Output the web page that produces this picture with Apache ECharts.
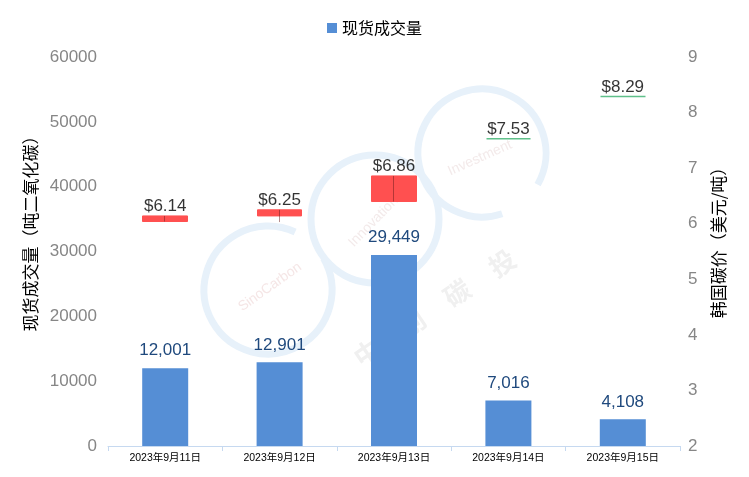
<!DOCTYPE html>
<html><head><meta charset="utf-8">
<script src="https://cdn.jsdelivr.net/npm/echarts@6/dist/echarts.min.js"></script>
<style>html,body{margin:0;padding:0;background:#fff}#c{width:749px;height:477px}</style>
</head><body><div id="c"></div>
<script>
const categories = ['2023年9月11日', '2023年9月12日', '2023年9月13日', '2023年9月14日', '2023年9月15日'];
const volume = [12001, 12901, 29449, 7016, 4108];
const priceOpen = [6.04, 6.14, 6.40, 7.53, 8.29];
const priceClose = [6.14, 6.25, 6.86, 7.53, 8.29];
const priceLow = [6.04, 6.03, 6.40, 7.53, 8.29];
const priceHigh = [6.14, 6.25, 6.86, 7.53, 8.29];
const priceColor = ['#ff5050', '#ff5050', '#ff5050', '#5fc08a', '#5fc08a'];
const wickShown = [true, true, true, false, false];
const leftTicks = { min: 0, max: 60000, interval: 10000 };
const rightTicks = { min: 2, max: 9, interval: 1 };

const FONT = 'Liberation Sans, Noto Sans CJK SC, sans-serif';
const CJK = 'Noto Sans CJK SC, sans-serif';

const boxData = priceOpen.map((o, i) => ({
  value: [o, priceClose[i], Math.min(o, priceClose[i]), Math.max(o, priceClose[i])],
  itemStyle: { color: priceColor[i], color0: priceColor[i], borderColor: priceColor[i], borderColor0: priceColor[i], borderWidth: priceOpen[i] === priceClose[i] ? 1.5 : 1 }
}));
const wickData = priceLow.map((l, i) => wickShown[i] ? [l, priceHigh[i], l, priceHigh[i]] : '-');

const wmColor = '#e7f1fa';
const wmChars = ['中', '创', '碳', '投'];
const wmText = wmChars.map((ch, i) => ({
  type: 'text', z: -10, x: 367 + i * 45, y: 353 - i * 30, rotation: 0.59,
  style: { text: ch, fill: '#f0f0f0', font: 'bold 26px ' + CJK, align: 'center', verticalAlign: 'middle' }
}));

const chart = echarts.init(document.getElementById('c'), null, { renderer: 'canvas' });
chart.setOption({
  animation: false,
  backgroundColor: '#fff',
  textStyle: { fontFamily: FONT },
  graphic: {
    elements: [
      { type: 'arc', z: -10, shape: { cx: 268, cy: 290, r: 64, startAngle: -0.52, endAngle: 5.15, clockwise: true }, style: { fill: null, stroke: wmColor, lineWidth: 7 } },
      { type: 'arc', z: -10, shape: { cx: 375, cy: 219, r: 64, startAngle: 0, endAngle: Math.PI * 2, clockwise: true }, style: { fill: null, stroke: wmColor, lineWidth: 7 } },
      { type: 'arc', z: -10, shape: { cx: 482, cy: 153, r: 64, startAngle: 1.25, endAngle: 6.8, clockwise: true }, style: { fill: null, stroke: wmColor, lineWidth: 7 } },
      { type: 'text', z: -10, x: 270, y: 287, rotation: 0.62, style: { text: 'SinoCarbon', fill: '#f5e6e6', font: '14px ' + FONT, align: 'center', verticalAlign: 'middle' } },
      { type: 'text', z: -10, x: 378, y: 217, rotation: 0.8, style: { text: 'Innovation &', fill: '#f3eaea', font: '14px ' + FONT, align: 'center', verticalAlign: 'middle' } },
      { type: 'text', z: -10, x: 480, y: 158, rotation: 0.42, style: { text: 'Investment', fill: '#f3eaea', font: '14px ' + FONT, align: 'center', verticalAlign: 'middle' } }
    ].concat(wmText)
  },
  legend: {
    top: 15, left: 'center', data: ['现货成交量'], icon: 'rect', itemWidth: 10, itemHeight: 10, itemGap: 8,
    textStyle: { fontSize: 16, color: '#000', fontFamily: CJK }
  },
  grid: { left: 108, right: 69, top: 57, bottom: 31 },
  xAxis: {
    type: 'category', data: categories,
    axisLine: { lineStyle: { color: '#c6d9f0', width: 1 } },
    axisTick: { show: true, length: 5, lineStyle: { color: '#c6d9f0' } },
    axisLabel: { fontSize: 10.5, color: '#000', margin: 7, fontFamily: FONT }
  },
  yAxis: [
    {
      type: 'value', min: leftTicks.min, max: leftTicks.max, interval: leftTicks.interval,
      name: '现货成交量（吨二氧化碳）', nameLocation: 'middle', nameGap: 62,
      nameTextStyle: { fontSize: 17, color: '#000', fontFamily: CJK, padding: [0, 0, 0, 44] },
      axisLine: { show: false }, axisTick: { show: false }, splitLine: { show: false },
      axisLabel: { fontSize: 17, color: '#868686', margin: 11, formatter: v => String(v) }
    },
    {
      type: 'value', min: rightTicks.min, max: rightTicks.max, interval: rightTicks.interval,
      name: '韩国碳价（美元/吨）', nameLocation: 'middle', nameGap: 30,
      nameTextStyle: { fontSize: 17, color: '#000', fontFamily: CJK, padding: [0, 0, 0, 26] },
      axisLine: { show: false }, axisTick: { show: false }, splitLine: { show: false },
      axisLabel: { fontSize: 17, color: '#868686', margin: 8 }
    }
  ],
  series: [
    {
      name: '现货成交量', type: 'bar', data: volume, barWidth: 46, yAxisIndex: 0,
      itemStyle: { color: '#558ed5' },
      label: {
        show: true, position: 'top', distance: 9, fontSize: 17, color: '#1f497d',
        formatter: p => p.value.toLocaleString('en-US')
      }
    },
    {
      name: '韩国碳价', type: 'candlestick', yAxisIndex: 1, barWidth: 45, data: boxData, z: 3
    },
    {
      name: '韩国碳价影线', type: 'candlestick', yAxisIndex: 1, barWidth: 1, data: wickData, z: 4,
      itemStyle: { color: '#6b1c1c', color0: '#6b1c1c', borderColor: '#6b1c1c', borderColor0: '#6b1c1c', borderWidth: 0.5 }
    },
    {
      name: '价格标签', type: 'scatter', yAxisIndex: 1, symbolSize: 0, data: priceHigh, z: 5,
      label: {
        show: true, position: 'top', distance: 1, fontSize: 17, color: '#000',
        formatter: p => '$' + p.value.toFixed(2)
      }
    }
  ]
});
</script></body></html>
